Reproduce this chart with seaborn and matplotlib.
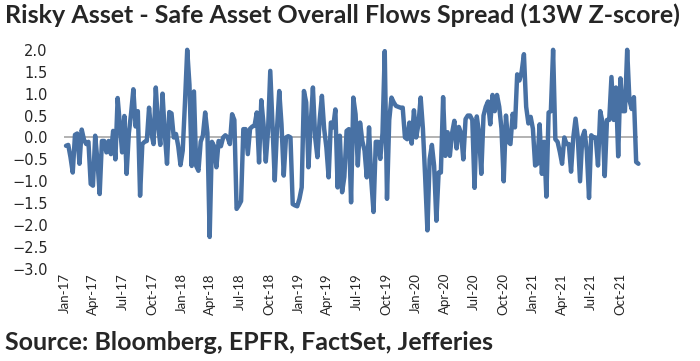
import pandas as pd
import matplotlib.pyplot as plt
import matplotlib.dates as mdates
import seaborn as sns

# Weekly risky-minus-safe asset flow spread (13W z-score)
spread_2017 = [-0.19, -0.17, -0.45, -0.80, 0.06, 0.09, -0.60, 0.18, -0.05, -0.15,
               -0.10, -1.06, -1.10, 0.04, -0.53, -1.29, -0.08, -0.08, -0.34, -0.08,
               -0.38, 0.15, -0.50, 0.90, 0.30, -0.34, 0.49, -0.83, 0.10, 0.55,
               1.10, 0.25, 0.60, -1.33, -0.15, -0.10, -0.08, 0.68, 0.10, -0.15,
               1.14, 0.30, -0.17, 1.00, 0.10, -0.60, 0.58, 0.55, 0.00, 0.08,
               -0.20, -0.63]
spread_2018 = [-0.30, 0.80, 2.00, 1.20, -0.65, 1.05, -0.65, -0.76, -0.10, 0.05,
               0.57, 0.10, -2.27, -0.10, -0.20, -0.68, -0.08, -0.20, 0.00, 0.05,
               0.00, -0.15, 0.53, 0.40, -1.63, -1.55, -1.45, 0.19, 0.19, -0.38,
               0.20, 0.25, 0.27, 0.57, -0.57, 0.85, 0.30, -0.55, 0.15, 1.52,
               0.25, -0.98, 0.20, 1.06, 0.30, -0.87, 0.00, 0.03, 0.00, -1.52,
               -1.55, -1.57]
spread_2019 = [-1.40, -1.14, 1.06, 0.80, -0.68, 0.30, 1.14, 0.00, -0.45, 0.40,
               0.95, 0.20, -0.23, -0.91, 0.34, 0.23, 0.64, -1.14, 0.04, -1.25,
               -0.90, 0.15, 0.19, -1.48, 0.91, 0.53, -0.64, 0.34, -0.08, -0.30,
               -0.91, 0.23, -0.98, -1.70, -0.10, -0.10, -0.49, 0.10, 1.97, -1.40,
               0.40, 0.91, 0.80, 0.72, 0.70, 0.68, 0.68, 0.00, -0.04, 0.34,
               -0.14, 0.62]
spread_2020 = [0.00, 0.30, 0.91, 0.20, -0.90, -2.12, -0.50, -0.17, -0.65, -1.90,
               -0.80, -0.80, 0.92, -0.42, 0.12, -0.42, 0.10, 0.38, -0.25, 0.24,
               0.10, -0.50, 0.42, 0.50, 0.50, 0.40, -1.15, 0.48, 0.10, -0.83,
               0.50, 0.70, 0.82, 0.30, 0.97, 0.60, 0.97, 0.70, 0.20, -1.00,
               0.50, -0.10, -0.15, 0.54, 0.23, 1.44, 1.30, 1.50, 1.90, 0.70,
               0.32, 0.47]
spread_2021 = [0.20, -0.64, -0.60, 0.30, -0.83, -0.10, -1.35, 0.57, 0.60, 2.00,
               -0.04, -0.10, -0.33, -0.60, 0.00, -0.15, -0.15, -0.78, 0.00, 0.43,
               0.00, -1.00, 0.00, 0.15, -0.30, -1.38, 0.05, 0.00, 0.00, -0.64,
               0.60, 0.35, -0.88, 0.40, 0.40, 1.38, 0.40, 1.14, -0.43, 1.35,
               0.60, 0.60, 2.00, 0.85, 0.65, 0.92, -0.56, -0.60]

first_week = "2017-01-06"
y_ticks = [2.0, 1.5, 1.0, 0.5, 0.0, -0.5, -1.0, -1.5, -2.0, -2.5, -3.0]

title = "Risky Asset - Safe Asset Overall Flows Spread (13W Z-score)"
source = "Source: Bloomberg, EPFR, FactSet, Jefferies"

values = spread_2017 + spread_2018 + spread_2019 + spread_2020 + spread_2021
dates = pd.date_range(first_week, periods=len(values), freq="W-FRI")
df = pd.DataFrame({"Date": dates, "Spread": values})

sns.set_style("white")
plt.rcParams["font.family"] = ["Lato", "DejaVu Sans"]

fig = plt.figure(figsize=(7, 3.61), dpi=100)
ax = fig.add_axes([0.092, 0.255, 0.82, 0.607])

ax.axhline(0, color="#a6a6a6", lw=1.2, zorder=1)
sns.lineplot(data=df, x="Date", y="Spread", color="#4871a4", lw=3.2,
             ax=ax, zorder=2, clip_on=False)

ax.set_xlim(pd.Timestamp("2017-01-01"), dates[-1])
ax.set_ylim(-3.0, 2.0)
ax.set_yticks(y_ticks)
ax.yaxis.set_major_formatter("{x:.1f}")
ax.xaxis.set_major_locator(mdates.MonthLocator(bymonth=[1, 4, 7, 10]))
ax.xaxis.set_major_formatter(mdates.DateFormatter("%b-%y"))
ax.tick_params(axis="y", length=0, pad=12, labelsize=10.5)
ax.tick_params(axis="x", length=0, pad=3, labelsize=9.5, rotation=90)
for lab in ax.get_yticklabels():
    lab.set_family("DejaVu Sans")
ax.set_xlabel("")
ax.set_ylabel("")
sns.despine(ax=ax, left=True, bottom=True)

fig.text(0.007, 0.99, title, ha="left", va="top", fontsize=18, weight="bold")
fig.text(0.007, 0.02, source, ha="left", va="bottom", fontsize=18, weight="bold")

fig.savefig("out.png", dpi=100)
